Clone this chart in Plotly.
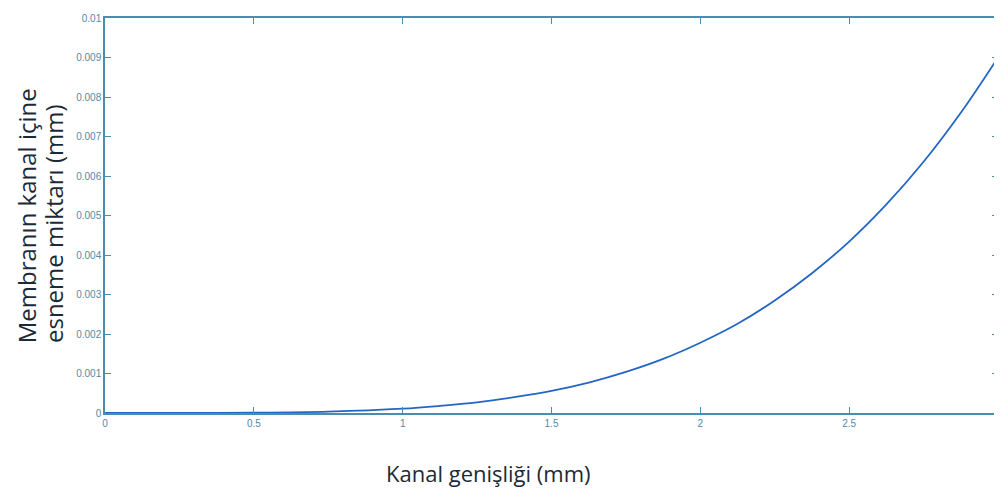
import plotly.graph_objects as go

# Data
x_vals = [0, 0.25, 0.5, 0.75, 1.0, 1.125, 1.25, 1.375, 1.5, 1.625, 1.75, 1.875,
          2.0, 2.125, 2.25, 2.375, 2.5, 2.625, 2.75, 2.875, 3.0]
y_vals = [0, 0.0000004, 0.000007, 0.000035, 0.00011, 0.00018, 0.00027, 0.00040,
          0.00056, 0.00077, 0.00104, 0.00137, 0.00178, 0.00226, 0.00285, 0.00354,
          0.00434, 0.00528, 0.00636, 0.00760, 0.0090]

x_ticks = [0, 0.5, 1, 1.5, 2, 2.5, 3]
x_ticktext = ["0", "0.5", "1", "1.5", "2", "2.5", "3"]
y_ticks = [0, 0.001, 0.002, 0.003, 0.004, 0.005, 0.006, 0.007, 0.008, 0.009, 0.01]
y_ticktext = ["0", "0.001", "0.002", "0.003", "0.004", "0.005", "0.006",
              "0.007", "0.008", "0.009", "0.01"]

x_title = "Kanal genişliği (mm)"
y_title_1 = "Membranın kanal içine"
y_title_2 = "esneme miktarı (mm)"

axis_color = "#4a8db0"
tick_font = dict(family="Liberation Sans, Arial, sans-serif", size=10, color="#4f8aa8")

fig = go.Figure()
fig.add_trace(go.Scatter(
    x=x_vals, y=y_vals, mode="lines",
    line=dict(color="#2466c4", width=1.8, shape="spline", smoothing=1.0),
    hoverinfo="x+y", showlegend=False,
))

fig.update_xaxes(
    range=[0, 3], tickvals=x_ticks, ticktext=x_ticktext,
    showgrid=False, zeroline=False, showline=True, linecolor=axis_color, linewidth=1.5,
    mirror="ticks", ticks="inside", ticklen=6, tickcolor=axis_color, tickwidth=1,
    tickfont=tick_font,
)
fig.update_yaxes(
    range=[0, 0.01], tickvals=y_ticks, ticktext=y_ticktext,
    showgrid=False, zeroline=False, showline=True, linecolor=axis_color, linewidth=1.5,
    mirror="ticks", ticks="inside", ticklen=6, tickcolor=axis_color, tickwidth=1,
    tickfont=tick_font,
)

title_color = "#1c2a38"
title_family = "Open Sans, Noto Sans, sans-serif"
fig.add_annotation(text=x_title, xref="paper", yref="paper", x=0.43, y=-0.152,
                   xanchor="center", yanchor="middle", showarrow=False,
                   font=dict(family=title_family, size=22, color=title_color))
fig.add_annotation(text=y_title_1, xref="paper", yref="paper", x=-0.0875, y=0.175,
                   xanchor="center", yanchor="bottom", textangle=-90, showarrow=False,
                   borderpad=0,
                   font=dict(family=title_family, size=24, color=title_color))
fig.add_annotation(text=y_title_2, xref="paper", yref="paper", x=-0.0575, y=0.175,
                   xanchor="center", yanchor="bottom", textangle=-90, showarrow=False,
                   borderpad=0,
                   font=dict(family=title_family, size=24, color=title_color))

# page body has an 8px default margin, so the figure is sized/offset to compensate
fig.update_layout(
    width=994, height=482,
    margin=dict(l=97, r=2, t=10, b=77),
    paper_bgcolor="white", plot_bgcolor="white",
)

fig.write_html("out.html")
